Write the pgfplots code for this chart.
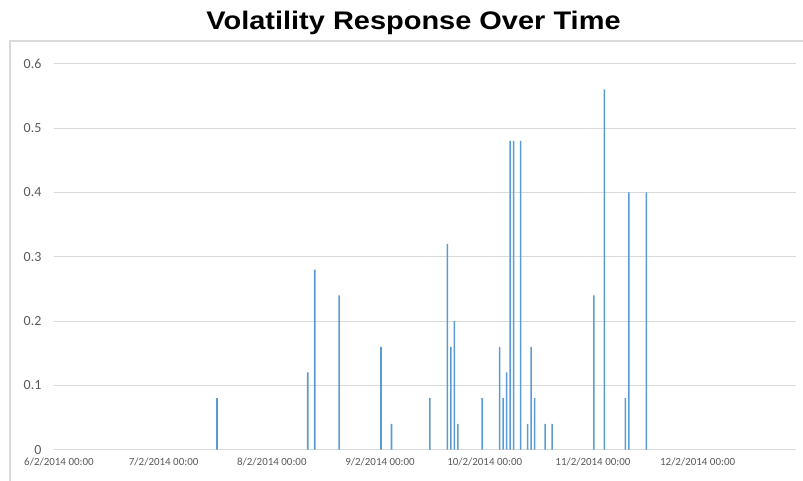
\documentclass[border=0pt]{standalone}
\usepackage{pgfplots}
\pgfplotsset{compat=1.18}
\usepackage{fontspec}
\setmainfont{Carlito}
\newfontfamily\titlefont{Liberation Sans}
\definecolor{barblue}{HTML}{5B9BD5}
\definecolor{gridgray}{HTML}{D9D9D9}
\definecolor{labelgray}{HTML}{595959}
\begin{document}
\begin{tikzpicture}[x=1bp,y=1bp]
\useasboundingbox (0,0) rectangle (803,481);
\draw[gridgray, line width=1.3bp] (10,-5) -- (10,440) -- (810,440);
\node[font=\titlefont\bfseries\fontsize{25.5}{30}\selectfont, anchor=base, inner sep=0pt] at (413.5,451.5) {\scalebox{1.14}[1]{Volatility Response Over Time}};
\begin{axis}[
  at={(54bp,31.3bp)}, anchor=south west,
  scale only axis, width=742bp, height=386bp,
  xmin=-1.7, xmax=210.9, ymin=0, ymax=0.6,
  axis line style={draw=none},
  major tick length=0pt,
  ymajorgrids, grid style={gridgray, line width=1bp},
  ytick={0,0.1,0.2,0.3,0.4,0.5,0.6},
  yticklabels={0,0.1,0.2,0.3,0.4,0.5,0.6},
  yticklabel style={font=\fontsize{14}{16}\selectfont, text=labelgray, anchor=east, inner sep=0pt, xshift=-12.5pt},
  xtick={0,30,61,92,122,153,183},
  xticklabels={6/2/2014 00:00,7/2/2014 00:00,8/2/2014 00:00,9/2/2014 00:00,10/2/2014 00:00,11/2/2014 00:00,12/2/2014 00:00},
  xticklabel style={font=\fontsize{11}{12}\selectfont, text=labelgray, anchor=north, inner sep=0pt, yshift=-8.5pt, xshift=-1pt},
  clip=false,
]
\addplot[ybar, bar width=0.45, fill=barblue, draw=none] coordinates {
(45,0.08) (71,0.12) (73,0.28) (80,0.24) (92,0.16) (95,0.04) (106,0.08)
(111,0.32) (112,0.16) (113,0.2) (114,0.04) (121,0.08) (126,0.16) (127,0.08)
(128,0.12) (129,0.48) (130,0.48) (132,0.48) (134,0.04) (135,0.16) (136,0.08)
(139,0.04) (141,0.04) (153,0.24) (156,0.56) (162,0.08) (163,0.4) (168,0.4)
};
\end{axis}
\end{tikzpicture}
\end{document}
